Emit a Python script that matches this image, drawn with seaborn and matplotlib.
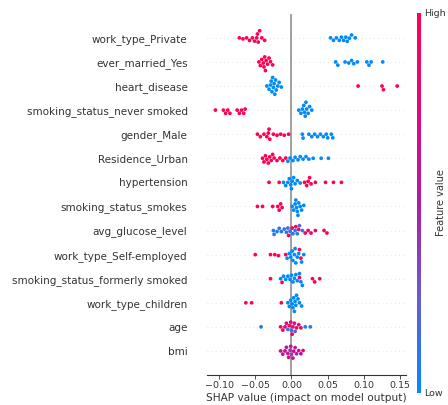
import matplotlib
matplotlib.use("Agg")
import matplotlib.pyplot as plt
from matplotlib.colors import LinearSegmentedColormap, Normalize
from matplotlib.cm import ScalarMappable
import seaborn as sns
import pandas as pd

features = ["work_type_Private", "ever_married_Yes", "heart_disease",
            "smoking_status_never smoked", "gender_Male", "Residence_Urban",
            "hypertension", "smoking_status_smokes", "avg_glucose_level",
            "work_type_Self-employed", "smoking_status_formerly smoked",
            "work_type_children", "age", "bmi"]

# binary features: SHAP values of samples with feature = 1 (hi) and = 0 (lo)
private_hi = [-0.072, -0.067, -0.062, -0.058, -0.054, -0.051, -0.048, -0.047,
              -0.046, -0.044, -0.041, -0.037]
private_lo = [0.054, 0.058, 0.062, 0.066, 0.069, 0.072, 0.075, 0.077, 0.080,
              0.083, 0.088]
married_hi = [-0.045, -0.043, -0.041, -0.039, -0.038, -0.037, -0.036,
              -0.035, -0.033, -0.031, -0.029, -0.026]
married_lo = [0.061, 0.064, 0.074, 0.079, 0.083, 0.086, 0.091, 0.104, 0.107,
              0.110, 0.126]
heart_hi = [0.092, 0.125, 0.127, 0.146]
heart_lo = [-0.034, -0.031, -0.029, -0.028, -0.027, -0.026, -0.025, -0.024,
            -0.023, -0.022, -0.021, -0.019, -0.017, -0.014]
never_hi = [-0.105, -0.094, -0.091, -0.088, -0.085, -0.075, -0.072, -0.069,
            -0.066, -0.064]
never_lo = [0.010, 0.013, 0.015, 0.017, 0.018, 0.019, 0.020, 0.021, 0.023,
            0.025, 0.028]
male_hi = [-0.047, -0.043, -0.038, -0.034, -0.032, -0.031, -0.030,
           -0.025, -0.020, -0.015, -0.010, -0.004]
male_lo = [0.015, 0.016, 0.024, 0.028, 0.032, 0.036, 0.040, 0.044, 0.048,
           0.050, 0.055, 0.057]
urban_hi = [-0.040, -0.038, -0.036, -0.034, -0.032, -0.030, -0.028, -0.026,
            -0.024, -0.020, -0.016, -0.012, -0.008]
urban_lo = [-0.005, -0.002, 0.002, 0.005, 0.009, 0.012, 0.016, 0.020, 0.024,
            0.030, 0.041, 0.051]
hyper_hi = [-0.031, -0.017, 0.018, 0.021, 0.023, 0.025, 0.027, 0.033, 0.047,
            0.058, 0.069]
hyper_lo = [-0.011, -0.008, -0.005, -0.003, -0.001, 0.000, 0.001, 0.003,
            0.005, 0.008, 0.012]
smokes_hi = [-0.047, -0.040, -0.026, -0.019, -0.017, -0.015, -0.013]
smokes_lo = [0.001, 0.003, 0.005, 0.006, 0.007, 0.008, 0.009, 0.010, 0.012,
             0.014, 0.017]
selfemp_hi = [-0.050, -0.029, -0.023, -0.018, -0.008, 0.011, 0.013]
selfemp_lo = [-0.006, -0.003, -0.001, 0.001, 0.002, 0.004, 0.005, 0.006,
              0.008, 0.010, 0.014, 0.017]
former_hi = [-0.029, -0.013, 0.011, 0.029, 0.032, 0.039]
former_lo = [-0.015, -0.011, -0.008, -0.005, -0.002, 0.000, 0.002, 0.004,
             0.006, 0.008, 0.011, 0.013, 0.015]
children_hi = [-0.063, -0.055, -0.014]
children_lo = [-0.005, -0.003, -0.001, 0.001, 0.002, 0.003, 0.004, 0.005,
               0.006, 0.007, 0.009, 0.011, 0.014]

# continuous features: SHAP value and scaled feature value (0 = low, 1 = high)
glucose_shap = [-0.025, -0.024, -0.020, -0.017, -0.014, -0.010, -0.007, -0.005,
                -0.002, 0.002, 0.005, 0.008, 0.011, 0.015, -0.004, 0.001,
                0.006, 0.010, 0.019, 0.023, 0.027, 0.033, 0.045, 0.049]
glucose_val = [0.05, 0.10, 0.08, 0.12, 0.05, 0.15, 0.10, 0.20, 0.12, 0.10,
               0.15, 0.05, 0.22, 0.12, 0.90, 0.85, 0.95, 0.88, 0.97, 0.90,
               0.95, 0.93, 0.98, 0.96]
age_shap = [-0.042, -0.015, -0.012, -0.009, -0.007, -0.005, -0.003, -0.001,
            0.000, 0.001, 0.002, 0.004, 0.005, 0.007, 0.010, 0.013, 0.019,
            0.026]
age_val = [0.05, 0.85, 0.95, 0.70, 0.90, 0.15, 0.92, 0.60, 0.10, 0.88, 0.75,
           0.95, 0.20, 0.85, 0.80, 0.75, 0.08, 0.05]
bmi_shap = [-0.015, -0.012, -0.009, -0.007, -0.005, -0.004, -0.002, -0.001,
            0.000, 0.002, 0.003, 0.005, 0.007, 0.010, 0.013, 0.016]
bmi_val = [0.65, 0.55, 0.70, 0.50, 0.60, 0.75, 0.40, 0.65, 0.35, 0.60, 0.70,
           0.50, 0.45, 0.65, 0.55, 0.75]

binary = {
    "work_type_Private": (private_hi, private_lo),
    "ever_married_Yes": (married_hi, married_lo),
    "heart_disease": (heart_hi, heart_lo),
    "smoking_status_never smoked": (never_hi, never_lo),
    "gender_Male": (male_hi, male_lo),
    "Residence_Urban": (urban_hi, urban_lo),
    "hypertension": (hyper_hi, hyper_lo),
    "smoking_status_smokes": (smokes_hi, smokes_lo),
    "work_type_Self-employed": (selfemp_hi, selfemp_lo),
    "smoking_status_formerly smoked": (former_hi, former_lo),
    "work_type_children": (children_hi, children_lo),
}
continuous = {
    "avg_glucose_level": (glucose_shap, glucose_val),
    "age": (age_shap, age_val),
    "bmi": (bmi_shap, bmi_val),
}

rows = []
for name in features:
    if name in binary:
        hi, lo = binary[name]
        rows += [(name, s, 0.0) for s in lo]
        rows += [(name, s, 1.0) for s in hi]
    else:
        sv, fv = continuous[name]
        rows += [(name, s, v) for s, v in zip(sv, fv)]
df = pd.DataFrame(rows, columns=["feature", "shap", "value"])

cmap = LinearSegmentedColormap.from_list(
    "red_blue", ["#008bfb", "#6a5ad6", "#b01aa4", "#e2087a", "#ff0052"])

sns.set_theme(style="white")
plt.rcParams["font.family"] = ["DejaVu Sans"]

fig = plt.figure(figsize=(4.48, 4.05), dpi=100)
ax = fig.add_axes([0.462, 0.074, 0.444, 0.892])

for i in range(len(features)):
    ax.axhline(i, color="#cccccc", lw=0.5, dashes=(1, 5), zorder=-1)
ax.axvline(0, color="#999999", lw=1.3, zorder=-1)

sns.swarmplot(data=df, x="shap", y="feature", hue="value", order=features,
              palette=cmap, hue_norm=(0, 1), size=2.7, linewidth=0,
              legend=False, ax=ax, zorder=3)

ax.set_ylim(len(features), -1)
ax.set_xlim(-0.1167, 0.158)
ax.set_xticks([-0.10, -0.05, 0.00, 0.05, 0.10, 0.15])
ax.set_xticklabels(["\u22120.10", "\u22120.05", "0.00", "0.05", "0.10", "0.15"])
ax.set_ylabel("")
ax.set_xlabel("SHAP value (impact on model output)", fontsize=7.6,
              color="#333333", labelpad=2)
for side in ["top", "right", "left"]:
    ax.spines[side].set_visible(False)
ax.spines["bottom"].set_color("#333333")
ax.spines["bottom"].set_linewidth(0.8)
ax.tick_params(axis="x", labelsize=6.8, colors="#333333", length=3,
               width=0.6, pad=1.5, bottom=True)
ax.tick_params(axis="y", labelsize=7.5, colors="#333333", length=0, pad=14)

cax = fig.add_axes([0.931, 0.030, 0.009, 0.938])
cb = fig.colorbar(ScalarMappable(norm=Normalize(0, 1), cmap=cmap), cax=cax,
                  ticks=[0, 1])
cb.set_ticklabels(["Low", "High"])
cb.outline.set_visible(False)
cb.ax.tick_params(labelsize=6.8, length=0, colors="#333333", pad=2)
cb.set_label("Feature value", size=7.0, labelpad=-7, color="#333333")

fig.savefig("out.png", dpi=100)
